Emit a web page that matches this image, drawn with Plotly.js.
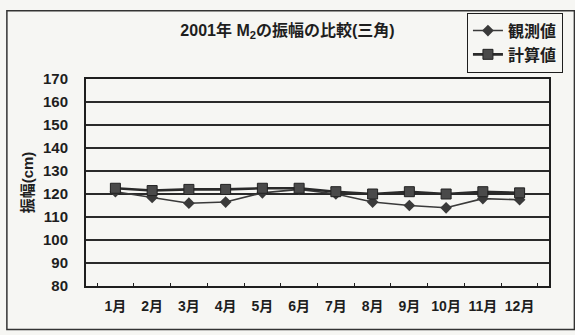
<!DOCTYPE html>
<html>
<head>
<meta charset="utf-8">
<script src="https://cdn.plot.ly/plotly-3.0.1.min.js"></script>
<style>
  html, body { margin: 0; padding: 0; background: #f6f6f3; }
  #chart { width: 575px; height: 335px; }
</style>
</head>
<body>
<div id="chart"></div>
<script>
// Monthly M2 amplitude (cm), 2001, observed vs computed
const months = ['1月', '2月', '3月', '4月', '5月', '6月', '7月', '8月', '9月', '10月', '11月', '12月'];
const observed = [121, 118.5, 116, 116.5, 120.5, 122, 120, 116.5, 115, 114, 118, 117.5];
const computed = [122.5, 121.5, 122, 122, 122.5, 122.5, 121, 120, 121, 120, 121, 120.5];
const yTicks = [80, 90, 100, 110, 120, 130, 140, 150, 160, 170];

const FONT = 'Liberation Sans, Arial, "Noto Sans CJK JP", sans-serif';
const INK = '#1e1e1e';

const traces = [
  {
    x: months, y: observed, name: '観測値', type: 'scatter', mode: 'lines+markers',
    line: { color: '#3a3a3a', width: 1.6 },
    marker: { symbol: 'diamond', size: 9, color: '#3a3a3a' }
  },
  {
    x: months, y: computed, name: '計算値', type: 'scatter', mode: 'lines+markers',
    line: { color: '#2a2a2a', width: 2.6 },
    marker: { symbol: 'square', size: 10, color: '#4a4a4a', line: { color: '#222', width: 1 } }
  }
];

const layout = {
  width: 575, height: 335,
  margin: { l: 86, r: 15, t: 77, b: 49 },
  paper_bgcolor: '#f6f6f3',
  plot_bgcolor: 'rgba(0,0,0,0)',
  font: { family: FONT, color: INK, size: 12 },
  title: {
    text: '2001年 M<sub>2</sub>の振幅の比較(三角)',
    font: { family: FONT, size: 16, weight: 'bold', color: INK },
    x: 0.5, xanchor: 'center', y: 0.91, yanchor: 'middle'
  },
  xaxis: {
    type: 'category',
    showgrid: false,
    showline: true, linecolor: INK, linewidth: 2, mirror: true,
    ticks: 'inside', ticklen: 3, tickcolor: INK, tickson: 'boundaries',
    tickangle: 0,
    tickfont: { family: FONT, size: 14, weight: 'bold', color: INK },
    ticklabelstandoff: 6
  },
  yaxis: {
    range: [80, 170],
    tickvals: yTicks,
    showgrid: true, gridcolor: '#2a2a2a', gridwidth: 2,
    showline: true, linecolor: INK, linewidth: 2, mirror: true,
    zeroline: false,
    ticks: '',
    ticklabelstandoff: 13,
    tickfont: { family: FONT, size: 15, weight: 'bold', color: INK },
    title: {
      text: '振幅(cm)',
      font: { family: FONT, size: 15, weight: 'bold', color: INK },
      standoff: 6
    }
  },
  showlegend: true,
  legend: {
    x: (476 - 86) / 474, xanchor: 'left', y: 1 + 67 / 209, yanchor: 'top',
    bgcolor: 'rgba(0,0,0,0)', bordercolor: INK, borderwidth: 1,
    font: { family: FONT, size: 16, weight: 'bold', color: INK },
    tracegroupgap: 0, itemwidth: 30
  },
  shapes: [
    {
      type: 'rect', xref: 'paper', yref: 'paper',
      x0: -81 / 474, x1: 500 / 474, y0: -44 / 209, y1: 1 + 69 / 209,
      line: { color: '#333', width: 1.5 }, fillcolor: 'rgba(0,0,0,0)', layer: 'below'
    }
  ]
};

Plotly.newPlot('chart', traces, layout, { displayModeBar: false, staticPlot: true });
</script>
</body>
</html>
